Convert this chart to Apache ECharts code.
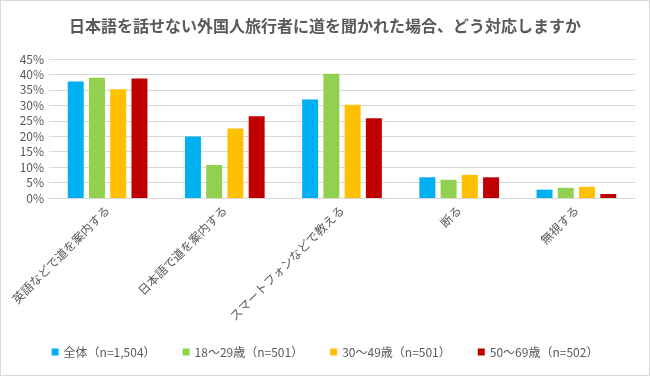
<!DOCTYPE html>
<html>
<head>
<meta charset="utf-8">
<script src="https://cdn.jsdelivr.net/npm/echarts@6/dist/echarts.min.js"></script>
<style>
  html, body { margin: 0; padding: 0; background: #fff; }
  #chart { width: 648px; height: 374px; border: 1px solid #d9d9d9; }
</style>
</head>
<body>
<div id="chart"></div>
<script>
const categories = ['英語などで道を案内する', '日本語で道を案内する', 'スマートフォンなどで教える', '断る', '無視する'];
const seriesNames = ['全体（n=1,504）', '18～29歳（n=501）', '30～49歳（n=501）', '50～69歳（n=502）'];
const allValues = [37.7, 19.9, 31.9, 6.7, 2.7];
const age18Values = [38.9, 10.7, 40.2, 5.9, 3.3];
const age30Values = [35.2, 22.5, 30.2, 7.5, 3.6];
const age50Values = [38.7, 26.5, 25.8, 6.7, 1.3];
const colors = ['#00B0F0', '#92D050', '#FFC000', '#C00000'];

const myChart = echarts.init(document.getElementById('chart'));
const font = '"Noto Sans CJK JP", "Noto Sans", sans-serif';
const dataList = [allValues, age18Values, age30Values, age50Values];

const option = {
  animation: false,
  textStyle: { fontFamily: font },
  title: {
    text: '日本語を話せない外国人旅行者に道を聞かれた場合、どう対応しますか',
    left: 'center',
    top: 12,
    textStyle: { fontSize: 16, fontWeight: 'bold', color: '#595959', fontFamily: font }
  },
  legend: {
    bottom: 12,
    left: 'center',
    itemWidth: 7,
    itemHeight: 7,
    itemGap: 27,
    icon: 'rect',
    textStyle: { fontSize: 12, color: '#595959', fontFamily: font },
    data: seriesNames
  },
  grid: { left: 48, right: 14, top: 58, bottom: 177 },
  xAxis: {
    type: 'category',
    data: categories,
    axisLine: { lineStyle: { color: '#d9d9d9' } },
    axisTick: { show: false },
    axisLabel: { rotate: 45, fontSize: 12, color: '#595959', margin: 10, interval: 0 }
  },
  yAxis: {
    type: 'value',
    min: 0,
    max: 45,
    interval: 5,
    axisLine: { show: false },
    axisTick: { show: false },
    splitLine: { lineStyle: { color: '#d9d9d9' } },
    axisLabel: { formatter: '{value}%', fontSize: 12, color: '#595959', margin: 5 }
  },
  series: dataList.map((d, i) => ({
    name: seriesNames[i],
    type: 'bar',
    data: d,
    itemStyle: { color: colors[i] },
    barGap: '33%',
    barCategoryGap: '32%'
  }))
};
myChart.setOption(option);
</script>
</body>
</html>
